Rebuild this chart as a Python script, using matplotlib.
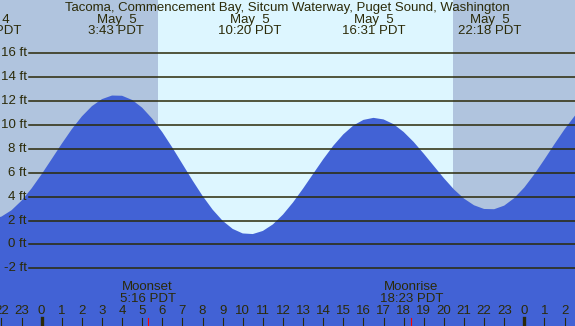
import numpy as np
import matplotlib
matplotlib.use("Agg")
import matplotlib.pyplot as plt
import matplotlib.transforms as mtransforms

# hours after midnight May 5 (PDT), half-hour steps
hours = np.arange(-2.5, 27.01, 0.5)
# tide height, ft
heights = [2.11, 2.33, 2.86, 3.66, 4.69, 5.88, 7.15, 8.43, 9.65, 10.72,
           11.58, 12.17, 12.47, 12.45, 12.10, 11.45, 10.53, 9.40, 8.11, 6.74,
           5.37, 4.07, 2.92, 1.98, 1.30, 0.92, 0.87, 1.13, 1.68, 2.50,
           3.52, 4.68, 5.91, 7.13, 8.26, 9.22, 9.96, 10.43, 10.60, 10.47,
           10.07, 9.42, 8.58, 7.60, 6.57, 5.55, 4.61, 3.84, 3.28, 2.97,
           2.95, 3.25, 3.88, 4.77, 5.88, 7.12, 8.40, 9.64, 10.75, 11.65]

# high / low tide labels along the top
tide_hours = [-2.6, 3.717, 10.333, 16.517, 22.3]
tide_dates = ["May  4", "May  5", "May  5", "May  5", "May  5"]
tide_clock = ["21:24 PDT", "3:43 PDT", "10:20 PDT", "16:31 PDT", "22:18 PDT"]

sunrise = 5.78
sunset = 20.45

moon_hours = [5.267, 18.383]
moon_names = ["Moonset", "Moonrise"]
moon_clock = ["5:16 PDT", "18:23 PDT"]

ft_levels = [-2, 0, 2, 4, 6, 8, 10, 12, 14, 16]
hour_ticks = list(range(-2, 27))

title = "Tacoma, Commencement Bay, Sitcum Waterway, Puget Sound, Washington"

W, H = 575, 326
night_col = "#b0c4de"
day_col = "#ddf6ff"
water_col = "#4262d5"
ink = "#2b2a08"

plt.rcParams["font.family"] = ["Liberation Sans", "DejaVu Sans"]

fig = plt.figure(figsize=(W / 100, H / 100), dpi=100)
ax = fig.add_axes([0, 0, 1, 1])
ax.set_xlim(-2.07, 26.52)
ax.set_ylim(-6.83, 20.47)
ax.axis("off")

def fy(px):
    # pixel row from top -> axes fraction
    return 1 - px / H

# day / night background
ax.axvspan(-5, sunrise, color=night_col, lw=0, zorder=0)
ax.axvspan(sunrise, sunset, color=day_col, lw=0, zorder=0)
ax.axvspan(sunset, 30, color=night_col, lw=0, zorder=0)

# water
ax.fill_between(hours, -20, heights, color=water_col, lw=0, zorder=1)

# depth lines and labels
ytr = mtransforms.blended_transform_factory(ax.transAxes, ax.transData)
for lv in ft_levels:
    ax.axhline(lv, xmin=29 / W, xmax=1, color=ink, lw=1.1, zorder=2)
    ax.text(27 / W, lv, f"{lv} ft", transform=ytr, ha="right", va="center",
            fontsize=9.5, color=ink, zorder=3)

xtr = mtransforms.blended_transform_factory(ax.transData, ax.transAxes)

# title and tide times
ax.text(0.5, fy(7.5), title, transform=ax.transAxes, ha="center", va="center",
        fontsize=9.5, color=ink, zorder=3)
for t, d, c in zip(tide_hours, tide_dates, tide_clock):
    ax.text(t, fy(19.5), d, transform=xtr, ha="center", va="center",
            fontsize=9.5, color=ink, zorder=3)
    ax.text(t, fy(31.5), c, transform=xtr, ha="center", va="center",
            fontsize=9.5, color=ink, zorder=3)

# moon events
for t, n, c in zip(moon_hours, moon_names, moon_clock):
    ax.text(t, fy(287.5), n, transform=xtr, ha="center", va="center",
            fontsize=9.5, color=ink, zorder=3)
    ax.text(t, fy(299.5), c, transform=xtr, ha="center", va="center",
            fontsize=9.5, color=ink, zorder=3)
    ax.axvline(t, ymin=0, ymax=8 / H, color="red", lw=0.8, zorder=3)

# hour ticks along the bottom
for h in hour_ticks:
    lab = h % 24
    ax.text(h, fy(311.5), str(lab), transform=xtr, ha="center", va="center",
            fontsize=9.5, color=ink, zorder=3)
    ax.axvline(h, ymin=0, ymax=8 / H, color=ink,
               lw=2.4 if lab == 0 else 0.8, zorder=3)

fig.savefig("out.png", dpi=100)
